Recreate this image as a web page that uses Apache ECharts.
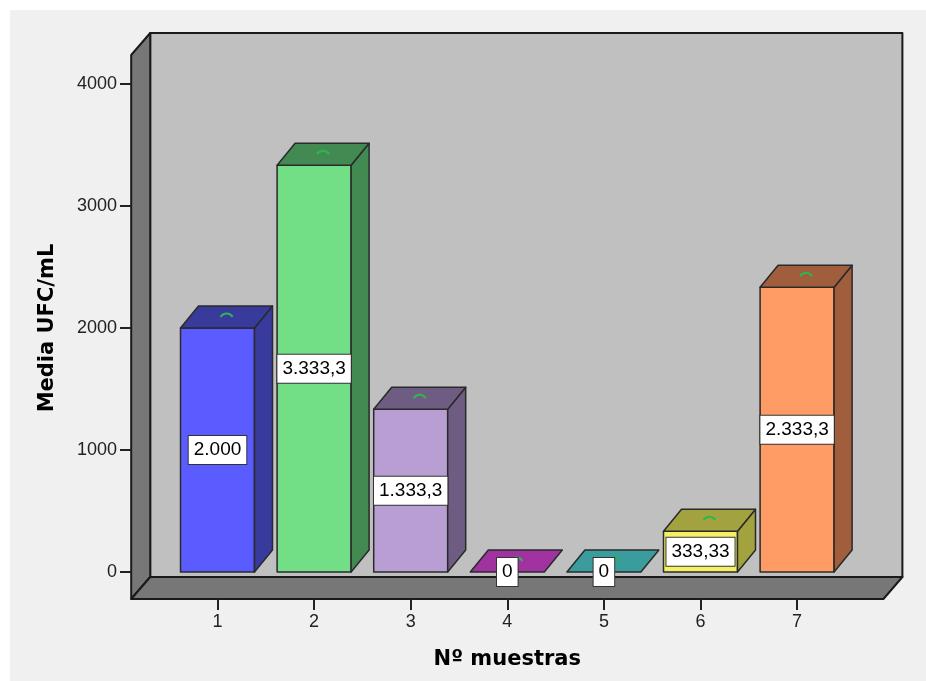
<!DOCTYPE html>
<html>
<head>
<meta charset="utf-8">
<script src="https://cdn.jsdelivr.net/npm/echarts@6/dist/echarts.min.js"></script>
<style>
  html, body { margin: 0; padding: 0; background: #ffffff; }
  #chart { width: 926px; height: 681px; }
</style>
</head>
<body>
<div id="chart"></div>
<script>
// Sample numbers on the category axis
const categories = ['1', '2', '3', '4', '5', '6', '7'];
// Mean CFU/mL per sample
const values = [2000, 3333.3, 1333.3, 0, 0, 333.33, 2333.3];
// Value axis ticks
const yMin = 0;
const yMax = 4000;
const yStep = 1000;

// Face colours of each block: front face and the darker top/side faces
const frontColors = ['#5a5cff', '#72de86', '#b89ed2', '#d75cd9', '#56cccc', '#f4f064', '#ff9c66'];
const shadeColors = ['#383b9c', '#438a52', '#6f5c82', '#a0339f', '#3a9c9c', '#a2a23e', '#a05e3c'];

// Pseudo-3D depth offset of blocks and walls (pixels)
const DX = 18, DY = -22;

// Spanish number style: '.' for thousands, ',' for decimals
function fmt(v) {
  const parts = String(v).split('.');
  const intPart = parts[0].replace(/\B(?=(\d{3})+(?!\d))/g, '.');
  return parts.length > 1 ? intPart + ',' + parts[1] : intPart;
}

const chart = echarts.init(document.getElementById('chart'));

// Walls and floor of the 3D box, laid out around the plot rectangle
function renderFrame(params, api) {
  const cs = params.coordSys;
  const fx = -19, fy = 22;
  const bl = cs.x - 19, br = cs.x + cs.width + 57;
  const bt = cs.y - 51, bb = cs.y + cs.height + 5;
  const stroke = { stroke: '#1a1a1a', lineWidth: 2, lineJoin: 'round' };
  return {
    type: 'group',
    children: [
      { type: 'rect', shape: { x: bl, y: bt, width: br - bl, height: bb - bt },
        style: Object.assign({ fill: '#c0c0c0' }, stroke) },
      { type: 'polygon', shape: { points: [[bl, bt], [bl + fx, bt + fy], [bl + fx, bb + fy], [bl, bb]] },
        style: Object.assign({ fill: '#777777' }, stroke) },
      { type: 'polygon', shape: { points: [[bl, bb], [br, bb], [br + fx, bb + fy], [bl + fx, bb + fy]] },
        style: Object.assign({ fill: '#777777' }, stroke) }
    ]
  };
}

// One pseudo-3D block per sample, with its value box
function renderBar(params, api) {
  const idx = api.value(0);
  const v = api.value(1);
  const top = api.coord([idx, v]);
  const base = api.coord([idx, 0]);
  const band = api.size([1, 0])[0];
  const half = band * 0.383;
  const cx = top[0];
  const x0 = cx - half, x1 = cx + half;
  const yT = top[1], yB = base[1];
  const edge = { stroke: '#2a2a2a', lineWidth: 1.5, lineJoin: 'round' };
  const children = [];
  if (yB - yT > 0.5) {
    children.push({ type: 'rect', shape: { x: x0, y: yT, width: x1 - x0, height: yB - yT },
      style: Object.assign({ fill: frontColors[idx] }, edge) });
    children.push({ type: 'polygon',
      shape: { points: [[x1, yT], [x1 + DX, yT + DY], [x1 + DX, yB + DY], [x1, yB]] },
      style: Object.assign({ fill: shadeColors[idx] }, edge) });
  }
  children.push({ type: 'polygon',
    shape: { points: [[x0, yT], [x0 + DX, yT + DY], [x1 + DX, yT + DY], [x1, yT]] },
    style: Object.assign({ fill: shadeColors[idx] }, edge) });
  // small cap mark on the top face
  children.push({ type: 'arc',
    shape: { cx: cx + DX / 2, cy: yT + DY / 2 + 3.5, r: 7, startAngle: Math.PI * 1.17, endAngle: Math.PI * 1.83, clockwise: true },
    style: { stroke: '#2db84f', lineWidth: 2, fill: null } });
  children.push({ type: 'text', x: cx, y: (yT + yB) / 2, z2: 20,
    style: {
      text: fmt(values[idx]),
      font: '19px "Liberation Sans", Arial, sans-serif',
      fill: '#000000',
      align: 'center', verticalAlign: 'middle',
      backgroundColor: '#ffffff', borderColor: '#333333', borderWidth: 1,
      padding: [5, 5, 4, 5]
    } });
  return { type: 'group', children: children };
}

chart.setOption({
  animation: false,
  backgroundColor: 'transparent',
  graphic: [
    { type: 'rect', left: 10, top: 10, z: -100,
      shape: { width: 916, height: 671 }, style: { fill: '#f0f0f0' } }
  ],
  grid: { left: 169.2, right: 80.6, top: 84, bottom: 109, containLabel: false },
  xAxis: {
    type: 'category',
    data: categories,
    offset: 27,
    z: 5,
    axisLine: { show: false, onZero: false },
    axisTick: { show: true, alignWithLabel: true, length: 11, lineStyle: { color: '#222', width: 2 } },
    axisLabel: { margin: 14, color: '#222', fontSize: 18, fontFamily: '"Liberation Sans", Arial, sans-serif' },
    name: 'Nº muestras',
    nameLocation: 'middle',
    nameGap: 50,
    nameTextStyle: { color: '#000', fontSize: 21, fontWeight: 'bold', fontFamily: '"DejaVu Sans", sans-serif' }
  },
  yAxis: {
    type: 'value',
    min: yMin, max: yMax, interval: yStep,
    offset: 38.2,
    z: 5,
    splitLine: { show: false },
    axisLine: { show: false },
    axisTick: { show: true, length: 11, lineStyle: { color: '#222', width: 2 } },
    axisLabel: { margin: 14, color: '#222', fontSize: 18, fontFamily: '"Liberation Sans", Arial, sans-serif',
      formatter: function (v) { return String(v); } },
    name: 'Media UFC/mL',
    nameLocation: 'middle',
    nameGap: 73,
    nameTextStyle: { color: '#000', fontSize: 21, fontWeight: 'bold', fontFamily: '"DejaVu Sans", sans-serif' }
  },
  series: [
    { type: 'custom', z: 1, silent: true, renderItem: renderFrame, data: [[0, 0]] },
    { type: 'custom', z: 3, renderItem: renderBar,
      data: values.map(function (v, i) { return [i, v]; }) }
  ]
});
</script>
</body>
</html>
